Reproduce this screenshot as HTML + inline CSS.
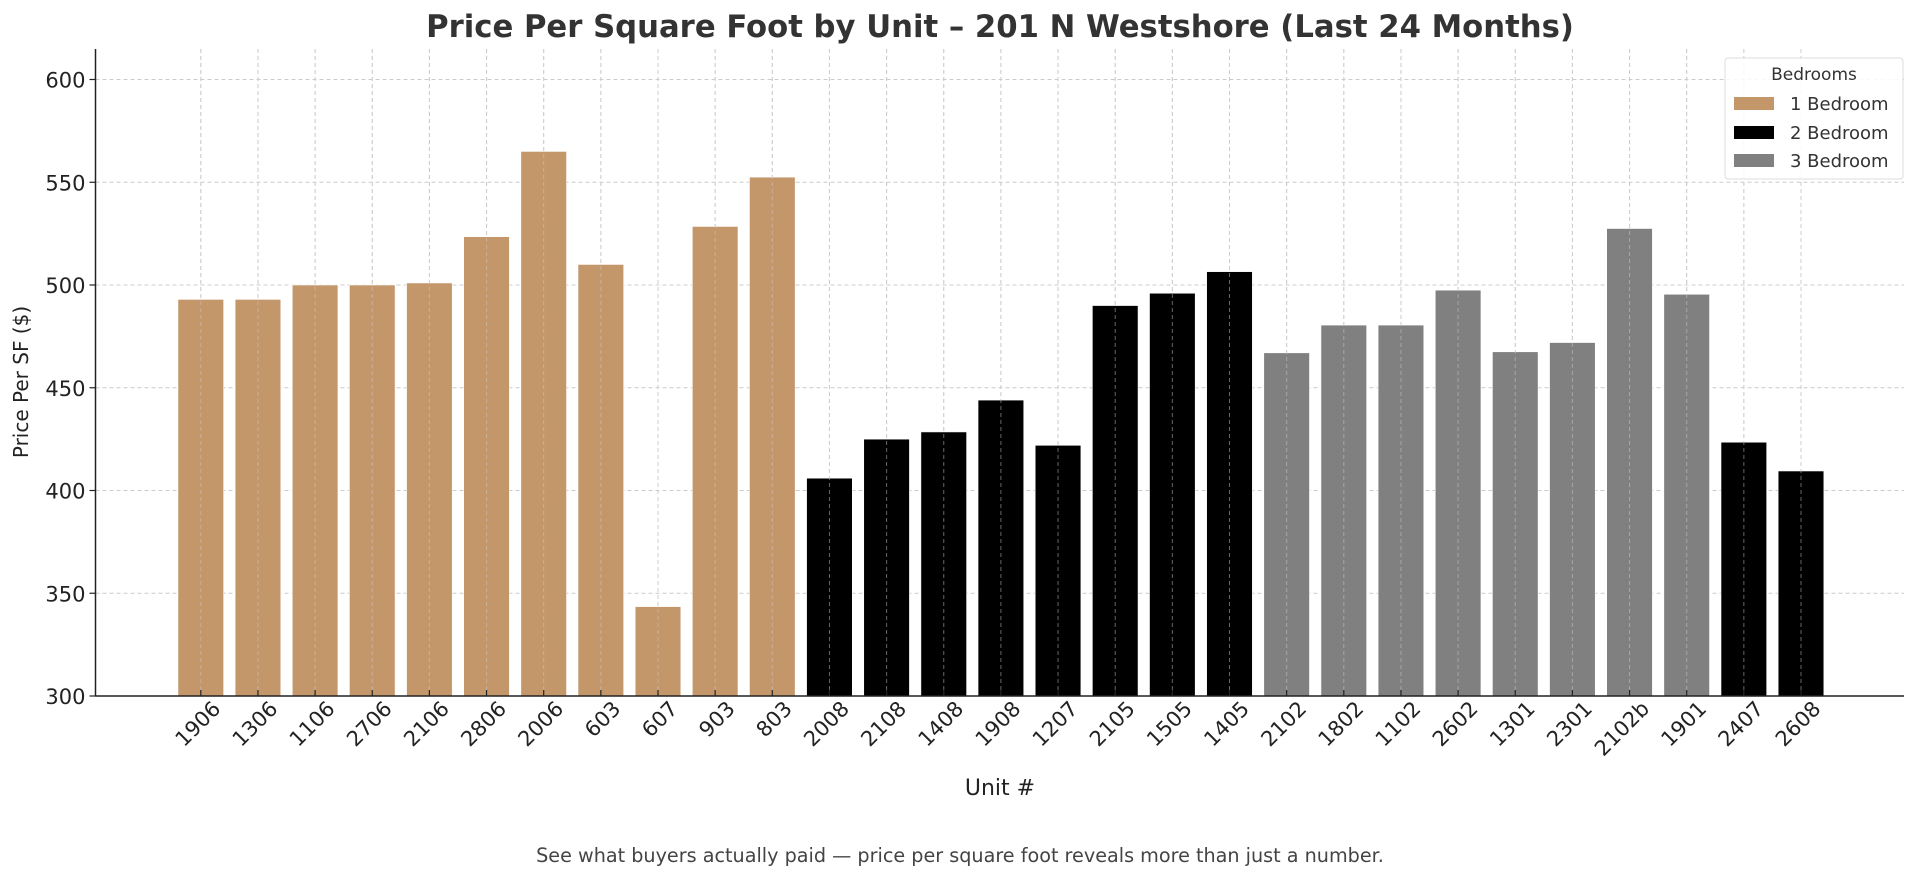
<!DOCTYPE html>
<html><head><meta charset="utf-8"><style>
html,body{margin:0;padding:0;background:#fff;}
svg{display:block;font-family:"DejaVu Sans","Liberation Sans",sans-serif;}
</style></head><body>
<svg id="chart" width="1920" height="881" viewBox="0 0 1920 881" xmlns="http://www.w3.org/2000/svg">
<text x="1000" y="37" text-anchor="middle" font-size="30.7" font-weight="bold" fill="#333">Price Per Square Foot by Unit – 201 N Westshore (Last 24 Months)</text>
<g id="grid"></g>
<g id="bars"></g>
<g id="axes"></g>
<text transform="translate(28,382) rotate(-90)" text-anchor="middle" font-size="20" fill="#222">Price Per SF ($)</text>
<text x="1000" y="795" text-anchor="middle" font-size="22" fill="#222">Unit #</text>
<text x="960" y="862" text-anchor="middle" font-size="19.2" fill="#444">See what buyers actually paid — price per square foot reveals more than just a number.</text>
<g>
<rect x="1725" y="58" width="178" height="121" rx="3" fill="#fff" fill-opacity="0.85" stroke="#ddd"/>
<text x="1814" y="80" text-anchor="middle" font-size="17" fill="#333">Bedrooms</text>
<g><rect x="1734" y="97" width="40" height="13" fill="#c4976b"/><text x="1790" y="110" font-size="18" fill="#333">1 Bedroom</text></g>
<g><rect x="1734" y="126" width="40" height="13" fill="#000"/><text x="1790" y="139" font-size="18" fill="#333">2 Bedroom</text></g>
<g><rect x="1734" y="154" width="40" height="13" fill="#808080"/><text x="1790" y="167" font-size="18" fill="#333">3 Bedroom</text></g>
</g>
</svg>
<script>
const units = ["1906","1306","1106","2706","2106","2806","2006","603","607","903","803","2008","2108","1408","1908","1207","2105","1505","1405","2102","1802","1102","2602","1301","2301","2102b","1901","2407","2608"];
const prices = [493,493,500,500,501,523.5,565,510,343.5,528.5,552.5,406,425,428.5,444,422,490,496,506.5,467,480.5,480.5,497.5,467.5,472,527.5,495.5,423.5,409.5];
const bedrooms = [1,1,1,1,1,1,1,1,1,1,1,2,2,2,2,2,2,2,2,3,3,3,3,3,3,3,3,2,2];
const yTicks = [300,350,400,450,500,550,600];
const colors = {1:"#c4976b",2:"#000000",3:"#808080"};

const NS="http://www.w3.org/2000/svg";
const L=95.5,R=1904,T=49,B=696;
const y=v=>696-(v-300)*(616.5/300);
const x=i=>200.8+i*((1801-200.8)/28);
const bw=45.7;
function mk(tag,attrs,parent){const e=document.createElementNS(NS,tag);for(const k in attrs)e.setAttribute(k,attrs[k]);parent.appendChild(e);return e;}
const grid=document.getElementById('grid'),bars=document.getElementById('bars'),axes=document.getElementById('axes');
yTicks.forEach(t=>{
  const g=mk('line',{x1:L,x2:R,y1:y(t),y2:y(t),stroke:'#ccc','stroke-dasharray':'4,3','stroke-width':1},grid);
  
  
  const tk=mk('line',{x1:L-6,x2:L,y1:y(t),y2:y(t),stroke:'#222','stroke-width':1.2},axes);
  
  
  const tx=mk('text',{x:L-10,y:y(t)+8,'text-anchor':'end','font-size':21,fill:'#222'},axes);
  tx.textContent=t;
  
  
});
units.forEach((u,i)=>{
  const g=mk('line',{x1:x(i),x2:x(i),y1:T,y2:B,stroke:'#ccc','stroke-dasharray':'4,3','stroke-width':1},grid);
  
  
  const r=mk('rect',{x:x(i)-bw/2,y:y(prices[i]),width:bw,height:B-y(prices[i]),fill:colors[bedrooms[i]],stroke:'#fff','stroke-width':0.6},bars);
  
  
  const gl=mk('line',{x1:x(i),x2:x(i),y1:T,y2:B,stroke:'#ccc','stroke-opacity':0.5,'stroke-dasharray':'4,3','stroke-width':1},bars);
  
  
  const tk=mk('line',{x1:x(i),x2:x(i),y1:B-6,y2:B,stroke:'#222','stroke-width':1.2},axes);
  
  
  const tx=mk('text',{transform:`translate(${x(i)+21},${B+14}) rotate(-45)`,'text-anchor':'end','font-size':21,fill:'#222'},axes);
  tx.textContent=u;
  
  
});
const la=mk('line',{x1:L,x2:L,y1:T,y2:B,stroke:'#222','stroke-width':1.5},axes);


const ba=mk('line',{x1:L,x2:R,y1:B,y2:B,stroke:'#222','stroke-width':1.5},axes);


</script>
</body></html>
